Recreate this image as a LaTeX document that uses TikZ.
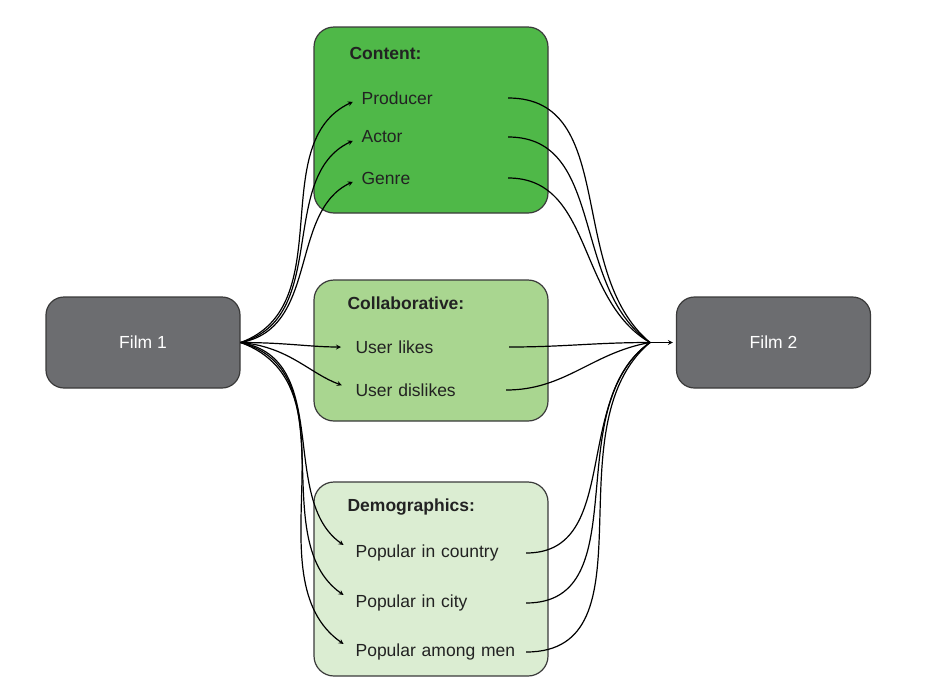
\documentclass[tikz,border=0pt]{standalone}
\usepackage{fontspec}
\setmainfont{Liberation Sans}
\usepackage{xcolor}
\usetikzlibrary{arrows}

\definecolor{filmgray}{HTML}{6C6D70}
\definecolor{contentgreen}{HTML}{4FB848}
\definecolor{collabgreen}{HTML}{A9D690}
\definecolor{demogreen}{HTML}{DBEDD2}
\definecolor{edgegray}{HTML}{3A3A3A}
\definecolor{textgray}{HTML}{222222}

\begin{document}
\begin{tikzpicture}[%
    x=1pt,
    y=-1pt,
    ->,
    >=stealth,
    line width=1.2pt,
    font=\fontsize{17.5}{21}\selectfont,
    film/.style={%
      rectangle,
      rounded corners=18pt,
      draw=edgegray,
      fill=filmgray,
      text=white,
      minimum width=194pt,
      minimum height=91pt
    },
    group/.style={%
      rectangle,
      rounded corners=20pt,
      draw=edgegray,
      minimum width=234pt
    },
    heading/.style={%
      anchor=west,
      inner sep=0pt,
      text=textgray,
      font=\fontsize{17.5}{21}\selectfont\bfseries
    },
    item/.style={%
      anchor=west,
      inner sep=0pt,
      align=left,
      text=textgray,
      text width=#1
    }
  ]
    \useasboundingbox (0,0) rectangle (926,694);

    % main nodes
    \node[film] (film1) at (143,342.5)                                        {Film 1};
    \node[film] (film2) at (773.5,342.5)                                      {Film 2};
    \node[group, fill=contentgreen, minimum height=186pt] (content) at (431,120)   {};
    \node[group, fill=collabgreen, minimum height=141pt]  (collab)  at (431,350.5) {};
    \node[group, fill=demogreen, minimum height=194pt]    (demo)    at (431,579)   {};

    % group texts
    \node[heading] (contenthead) at (349,53)    {Content:};
    \node[item=146pt] (producer) at (361,98)    {Producer};
    \node[item=146pt] (actor)    at (361,137)   {Actor};
    \node[item=146pt] (genre)    at (361,178)   {Genre};

    \node[heading] (collabhead) at (347,303)    {Collaborative:};
    \node[item=153pt] (likes)    at (355,347)   {User likes};
    \node[item=150pt] (dislikes) at (355,390)   {User dislikes};

    \node[heading] (demohead) at (347,507)      {Demographics:};
    \node[item=170pt] (country)  at (355,553)   {Popular in country};
    \node[item=170pt] (city)     at (355,603)   {Popular in city};
    \node[item=170pt] (men)      at (355,652)   {Popular among men};

    \coordinate (hub) at (650,342.5);

    % film 1 to features
    \path (film1.east) edge [out=20,in=205,shorten >=9pt]   (producer.west)
          (film1.east) edge [out=15,in=205,shorten >=9pt]   (actor.west)
          (film1.east) edge [out=10,in=205,shorten >=9pt]   (genre.west)
          (film1.east) edge [out=0,in=180,shorten >=14pt]   (likes.west)
          (film1.east) edge [out=-5,in=160,shorten >=14pt]  (dislikes.west)
          (film1.east) edge [out=-10,in=145,shorten >=14pt] (country.west)
          (film1.east) edge [out=-15,in=145,shorten >=14pt] (city.west)
          (film1.east) edge [out=-20,in=145,shorten >=14pt] (men.west)
          ;

    % features to film 2
    \path[-] (producer.east) edge [out=0,in=140] (hub)
             (actor.east)    edge [out=0,in=145] (hub)
             (genre.east)    edge [out=0,in=150] (hub)
             (likes.east)    edge [out=0,in=180] (hub)
             (dislikes.east) edge [out=0,in=190] (hub)
             (country.east)  edge [out=0,in=215] (hub)
             (city.east)     edge [out=0,in=215] (hub)
             (men.east)      edge [out=0,in=220] (hub)
             ;
    \draw[shorten >=3pt] (hub) -- (film2.west);
  \end{tikzpicture}
\end{document}
